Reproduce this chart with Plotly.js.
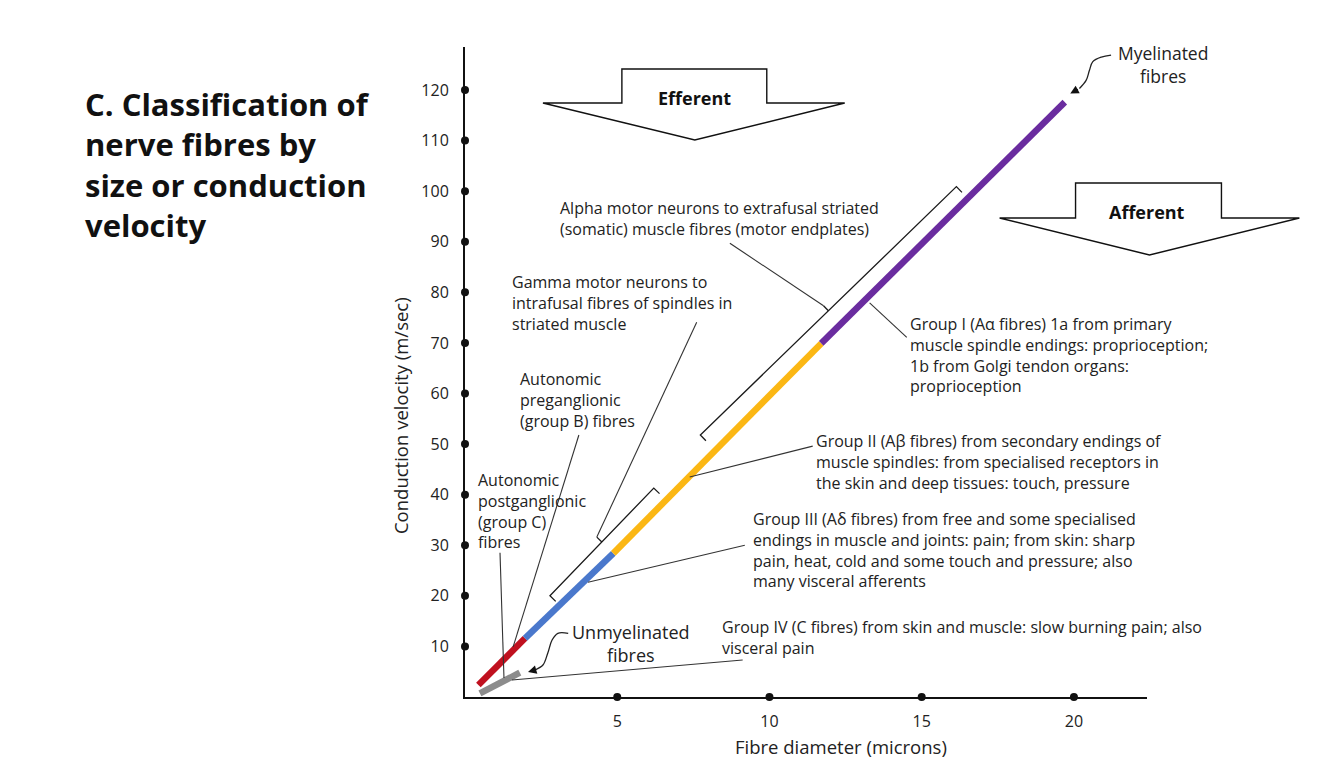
<!DOCTYPE html>
<html>
<head>
<meta charset="utf-8">
<script src="https://cdn.plot.ly/plotly-3.0.1.min.js"></script>
<style>
html,body{margin:0;padding:0;background:#ffffff;}
#chart{width:1334px;height:764px;}
</style>
</head>
<body>
<div id="chart"></div>
<script>
// ---------------- DATA ----------------
// Axis ticks
const xTickVals = [5, 10, 15, 20];
const yTickVals = [10, 20, 30, 40, 50, 60, 70, 80, 90, 100, 110, 120];

// Fibre classes drawn along the diameter (microns) / velocity (m/sec) relation
const segNames      = ['Group IV (C fibres), unmyelinated', 'Autonomic preganglionic (group B)', 'Group III (A\u03b4 fibres)', 'Group II (A\u03b2 fibres)', 'Group I (A\u03b1 fibres)'];
const segDiamStart  = [0.49, 0.44, 1.97, 4.87, 11.7];
const segDiamEnd    = [1.80, 1.97, 4.87, 11.7, 19.7];
const segVelStart   = [0.73, 2.37, 11.6, 28.4, 69.9];
const segVelEnd     = [4.80, 11.6, 28.4, 69.9, 117.6];

// Efferent brackets (alpha and gamma motor neurons)
const bracketNames     = ['Alpha motor neurons', 'Gamma motor neurons'];
const bracketDiamStart = [7.73, 2.79];
const bracketVelStart  = [51.8, 20.0];
const bracketDiamEnd   = [16.14, 6.20];
const bracketVelEnd    = [100.9, 41.3];

// Leader lines from labels to the fibres (label end -> fibre end); bracket index >= 0 means bracket centre
const leaderNames  = ['Alpha', 'Gamma', 'Preganglionic', 'Postganglionic', 'Group I', 'Group II', 'Group III', 'Group IV'];
const leaderFromX  = [8.70, 7.61, 3.74, 1.15, 14.51, 11.42, 9.19, 9.12];
const leaderFromY  = [89.7, 74.1, 51.8, 28.5, 71.1, 49.6, 30.0, 7.3];
const leaderToX    = [null, null, 1.58, 1.28, 13.29, 7.38, 4.04, 1.54];
const leaderToY    = [null, null, 9.9, 3.75, 77.9, 43.5, 22.7, 3.36];
const leaderBracket = [0, 1, -1, -1, -1, -1, -1, -1];

// Curved pointers for "Unmyelinated fibres" and "Myelinated fibres"
const unmyelCurveX = [3.39, 3.05, 2.86, 2.72, 2.56, 2.30, 2.07];
const unmyelCurveY = [12.59, 12.59, 11.26, 8.70, 6.32, 5.34, 4.94];
const myelCurveX   = [21.22, 20.90, 20.62, 20.51, 20.40, 20.18, 19.88];
const myelCurveY   = [126.9, 126.5, 125.6, 123.9, 121.9, 120.3, 119.3];

// ---------------- LAYOUT GEOMETRY ----------------
const W = 1334, H = 764;
const ML = 465, MT = 47, MR = 186.5, MB = 67;
const PW = W - ML - MR, PH = H - MT - MB;
const XR = [0, 22.4], YR = [0, 128.5];
const sx = PW / (XR[1] - XR[0]), sy = PH / (YR[1] - YR[0]);
function d2p(x, y) { return [ML + (x - XR[0]) * sx, MT + PH - (y - YR[0]) * sy]; }
function p2d(px, py) { return [XR[0] + (px - ML) / sx, YR[0] + (MT + PH - py) / sy]; }
function pxX(px) { return (px - ML) / PW; }
function pxY(py) { return (MT + PH - py) / PH; }

const FONT = "'Open Sans', 'Noto Sans', sans-serif";
const TXT = '#222222';
const segColors = ['#8c8c8c', '#c0111f', '#4a78cc', '#fbb714', '#6a2c9f'];

const traces = [];

// coloured fibre segments
for (let i = 0; i < segNames.length; i++) {
  traces.push({
    type: 'scatter', mode: 'lines', name: segNames[i],
    x: [segDiamStart[i], segDiamEnd[i]], y: [segVelStart[i], segVelEnd[i]],
    line: {color: segColors[i], width: 6.5}, hoverinfo: 'skip'
  });
}

// brackets
const bracketTips = [];
{
  const bx = [], by = [];
  const endLen = 8, midLen = 7;
  for (let i = 0; i < bracketNames.length; i++) {
    const p0 = d2p(bracketDiamStart[i], bracketVelStart[i]);
    const p1 = d2p(bracketDiamEnd[i], bracketVelEnd[i]);
    const dx = p1[0] - p0[0], dy = p1[1] - p0[1];
    const L = Math.hypot(dx, dy);
    const u = [dx / L, dy / L];
    const n = [-u[1], u[0]]; // towards the fibre line (down-right)
    const pts = [
      [p0[0] + n[0] * endLen, p0[1] + n[1] * endLen], p0, p1,
      [p1[0] + n[0] * endLen, p1[1] + n[1] * endLen]
    ];
    pts.forEach(p => { const d = p2d(p[0], p[1]); bx.push(d[0]); by.push(d[1]); });
    bx.push(null); by.push(null);
    const m = [(p0[0] + p1[0]) / 2, (p0[1] + p1[1]) / 2];
    const mt = [m[0] - n[0] * midLen, m[1] - n[1] * midLen];
    [m, mt].forEach(p => { const d = p2d(p[0], p[1]); bx.push(d[0]); by.push(d[1]); });
    bx.push(null); by.push(null);
    bracketTips.push(p2d(mt[0], mt[1]));
  }
  traces.push({type: 'scatter', mode: 'lines', x: bx, y: by,
    line: {color: '#1a1a1a', width: 1.3}, hoverinfo: 'skip'});
}

// leader lines
{
  const lx = [], ly = [];
  for (let i = 0; i < leaderNames.length; i++) {
    let tx = leaderToX[i], ty = leaderToY[i];
    if (leaderBracket[i] >= 0) { tx = bracketTips[leaderBracket[i]][0]; ty = bracketTips[leaderBracket[i]][1]; }
    lx.push(leaderFromX[i], tx, null);
    ly.push(leaderFromY[i], ty, null);
  }
  traces.push({type: 'scatter', mode: 'lines', x: lx, y: ly,
    line: {color: '#333333', width: 1.1}, hoverinfo: 'skip'});
}

// curved pointers
traces.push({type: 'scatter', mode: 'lines', x: unmyelCurveX.slice(0, -1), y: unmyelCurveY.slice(0, -1),
  line: {color: '#222', width: 1.3, shape: 'spline'}, hoverinfo: 'skip'});
traces.push({type: 'scatter', mode: 'lines', x: myelCurveX.slice(0, -1), y: myelCurveY.slice(0, -1),
  line: {color: '#222', width: 1.3, shape: 'spline'}, hoverinfo: 'skip'});

// tick dots on axes
traces.push({type: 'scatter', mode: 'markers', x: xTickVals, y: xTickVals.map(() => 0),
  marker: {color: '#111', size: 8}, cliponaxis: false, hoverinfo: 'skip'});
traces.push({type: 'scatter', mode: 'markers', x: yTickVals.map(() => 0), y: yTickVals,
  marker: {color: '#111', size: 8}, cliponaxis: false, hoverinfo: 'skip'});

// ---------------- ANNOTATIONS ----------------
const ann = [];
function note(text, px, py, opt) {
  opt = opt || {};
  ann.push(Object.assign({
    text: text, xref: 'paper', yref: 'paper', x: pxX(px), y: pxY(py),
    xanchor: 'left', yanchor: 'middle', align: 'left', showarrow: false,
    font: {family: FONT, size: 16, color: TXT}
  }, opt));
}
// chart title
note('<b>C. Classification of<br>nerve fibres by<br>size or conduction<br>velocity</b>', 83, 164,
  {font: {family: FONT, size: 31, color: '#111'}});

note('Alpha motor neurons to extrafusal striated<br>(somatic) muscle fibres (motor endplates)', 558, 219);
note('Gamma motor neurons to<br>intrafusal fibres of spindles in<br>striated muscle', 510, 303);
note('Autonomic<br>preganglionic<br>(group B) fibres', 518, 400);
note('Autonomic<br>postganglionic<br>(group C)<br>fibres', 476, 511);
note('Group I (A\u03b1 fibres) 1a from primary<br>muscle spindle endings: proprioception;<br>1b from Golgi tendon organs:<br>proprioception', 908, 355);
note('Group II (A\u03b2 fibres) from secondary endings of<br>muscle spindles: from specialised receptors in<br>the skin and deep tissues: touch, pressure', 814, 462);
note('Group III (A\u03b4 fibres) from free and some specialised<br>endings in muscle and joints: pain; from skin: sharp<br>pain, heat, cold and some touch and pressure; also<br>many visceral afferents', 751, 550);
note('Group IV (C fibres) from skin and muscle: slow burning pain; also<br>visceral pain', 720, 637);
note('Unmyelinated<br>fibres', 631, 643, {xanchor: 'center', align: 'center', font: {family: FONT, size: 18, color: TXT}});
note('Myelinated<br>fibres', 1164, 64, {xanchor: 'center', align: 'center', font: {family: FONT, size: 17.5, color: TXT}});
note('<b>Efferent</b>', 695, 98, {xanchor: 'center', align: 'center', font: {family: FONT, size: 18, color: '#111'}});
note('<b>Afferent</b>', 1148, 212, {xanchor: 'center', align: 'center', font: {family: FONT, size: 18, color: '#111'}});
// axis titles
note('Fibre diameter (microns)', 841, 746, {xanchor: 'center', font: {family: FONT, size: 18.5, color: TXT}});
note('Conduction velocity (m/sec)', 400, 416, {xanchor: 'center', textangle: -90, font: {family: FONT, size: 18.5, color: TXT}});

// arrowheads for curved pointers
[[unmyelCurveX, unmyelCurveY], [myelCurveX, myelCurveY]].forEach(c => {
  const n = c[0].length;
  ann.push({x: c[0][n - 1], y: c[1][n - 1], ax: c[0][n - 2], ay: c[1][n - 2],
    xref: 'x', yref: 'y', axref: 'x', ayref: 'y', text: '', showarrow: true,
    arrowhead: 2, arrowsize: 1.3, arrowwidth: 1.3, arrowcolor: '#111'});
});

// ---------------- BLOCK ARROWS ----------------
function blockPath(xs, ys) {
  return 'M ' + xs.map((x, i) => pxX(x).toFixed(5) + ',' + pxY(ys[i]).toFixed(5)).join(' L ') + ' Z';
}
const shapes = [
  {type: 'path', xref: 'paper', yref: 'paper', layer: 'below',
   path: blockPath([543, 622, 622, 767, 767, 845, 695], [103, 103, 69, 69, 103, 103, 140]),
   line: {color: '#111', width: 1.4}, fillcolor: '#ffffff'},
  {type: 'path', xref: 'paper', yref: 'paper', layer: 'below',
   path: blockPath([1000, 1076, 1076, 1222, 1222, 1300, 1150], [218, 218, 183, 183, 218, 218, 255]),
   line: {color: '#111', width: 1.4}, fillcolor: '#ffffff'}
];

const layout = {
  width: W, height: H,
  margin: {l: ML, r: MR, t: MT, b: MB, pad: 0},
  paper_bgcolor: '#ffffff', plot_bgcolor: 'rgba(0,0,0,0)',
  showlegend: false,
  font: {family: FONT, color: TXT},
  xaxis: {range: XR, showgrid: false, zeroline: false, showline: true, linecolor: '#111', linewidth: 2,
    tickmode: 'array', tickvals: xTickVals, ticktext: xTickVals.map(String), ticks: '',
    tickfont: {family: FONT, size: 16, color: TXT}, ticklabelstandoff: 9, fixedrange: true},
  yaxis: {range: YR, showgrid: false, zeroline: false, showline: true, linecolor: '#111', linewidth: 2,
    tickmode: 'array', tickvals: yTickVals, ticktext: yTickVals.map(String), ticks: '',
    tickfont: {family: FONT, size: 16, color: TXT}, ticklabelstandoff: 11, fixedrange: true},
  annotations: ann,
  shapes: shapes
};

Plotly.newPlot('chart', traces, layout, {displayModeBar: false, responsive: false});
</script>
</body>
</html>
